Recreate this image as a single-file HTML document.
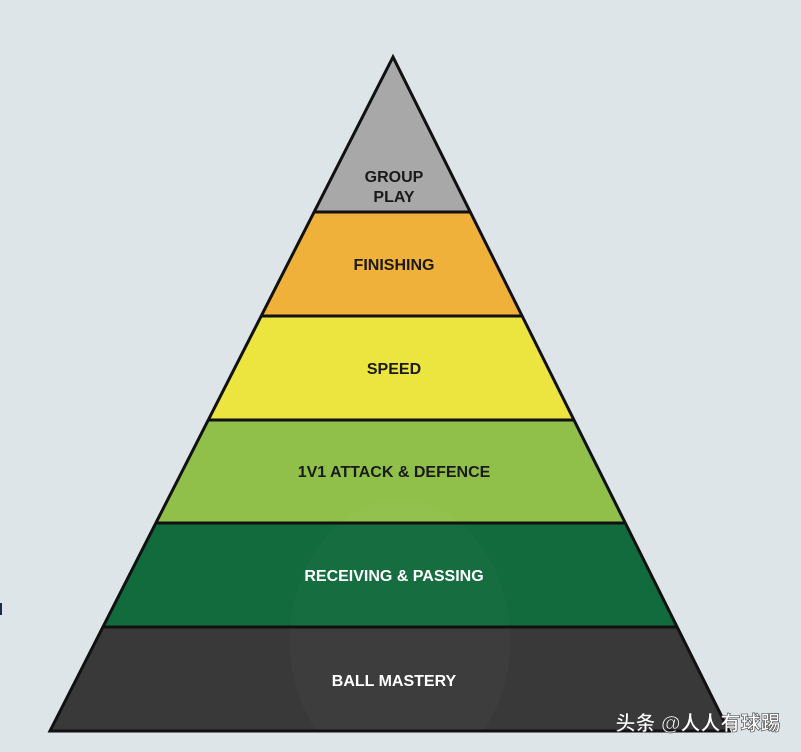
<!DOCTYPE html>
<html><head><meta charset="utf-8"><style>
html,body{margin:0;padding:0;background:#dde5e8;}
svg{display:block}
text{font-family:"Liberation Sans","Noto Sans CJK SC",sans-serif;font-weight:bold;text-anchor:middle}
</style></head><body>
<svg width="801" height="752" viewBox="0 0 801 752">
<rect width="801" height="752" fill="#dde5e8"/>
<rect x="0" y="603" width="2" height="12" fill="#1a2a50"/>
<defs><clipPath id="t"><polygon points="393,57 50,731 729,731"/></clipPath></defs>
<g clip-path="url(#t)">
<rect x="0" y="50" width="801" height="162" fill="#a8a8a8"/>
<rect x="0" y="212" width="801" height="104" fill="#f0b13a"/>
<rect x="0" y="316" width="801" height="104" fill="#ece43f"/>
<rect x="0" y="420" width="801" height="103" fill="#90c04a"/>
<rect x="0" y="523" width="801" height="104" fill="#116b3c"/>
<rect x="0" y="627" width="801" height="110" fill="#393939"/>
<ellipse cx="400" cy="640" rx="110" ry="140" fill="#ffffff" opacity="0.025"/>
<g stroke="#111" stroke-width="3">
<line x1="0" y1="212" x2="801" y2="212"/>
<line x1="0" y1="316" x2="801" y2="316"/>
<line x1="0" y1="420" x2="801" y2="420"/>
<line x1="0" y1="523" x2="801" y2="523"/>
<line x1="0" y1="627" x2="801" y2="627"/>
</g>
</g>
<polygon points="393,57 50,731 729,731" fill="none" stroke="#111" stroke-width="3" stroke-linejoin="miter"/>
<g font-size="16" fill="#1a1a1a">
<text x="394" y="182">GROUP</text>
<text x="394" y="202">PLAY</text>
<text x="394" y="270">FINISHING</text>
<text x="394" y="374">SPEED</text>
<text x="394" y="477">1V1 ATTACK &amp; DEFENCE</text>
</g>
<g font-size="16" fill="#ffffff">
<text x="394" y="581">RECEIVING &amp; PASSING</text>
<text x="394" y="686">BALL MASTERY</text>
</g>
<text x="698" y="730" font-size="20" fill="#fff" stroke="#333" stroke-width="0.6">头条 @人人有球踢</text>
</svg>
</body></html>
